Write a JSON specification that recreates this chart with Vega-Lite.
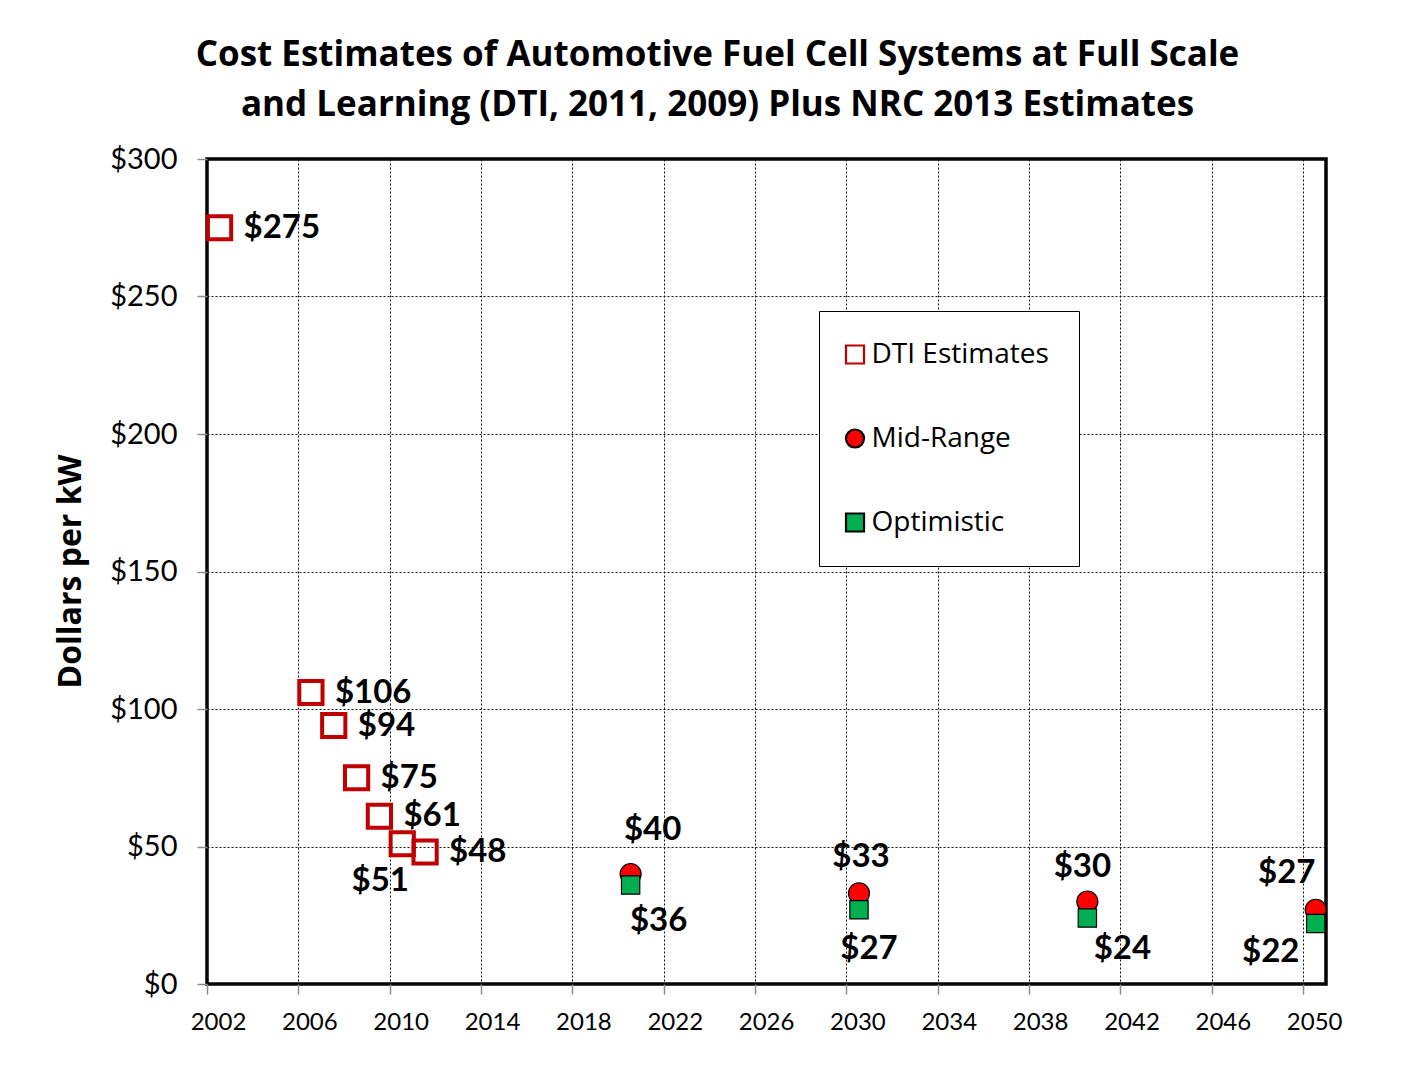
{
  "$schema": "https://vega.github.io/schema/vega-lite/v6.json",
  "width": 1119,
  "height": 825,
  "autosize": {"type": "none"},
  "padding": {"left": 207, "top": 159, "right": 90, "bottom": 81},
  "background": "white",
  "title": {
    "text": ["Cost Estimates of Automotive  Fuel Cell Systems at Full Scale", "and Learning  (DTI, 2011, 2009) Plus NRC 2013 Estimates"],
    "font": "Open Sans",
    "fontSize": 35,
    "fontWeight": "bold",
    "lineHeight": 50,
    "anchor": "middle",
    "dx": -49,
    "offset": 22,
    "color": "black"
  },
  "data": {
    "values": [
      {"series": "DTI Estimates", "year": 2002.55, "cost": 275},
      {"series": "DTI Estimates", "year": 2006.55, "cost": 106},
      {"series": "DTI Estimates", "year": 2007.55, "cost": 94},
      {"series": "DTI Estimates", "year": 2008.55, "cost": 75},
      {"series": "DTI Estimates", "year": 2009.55, "cost": 61},
      {"series": "DTI Estimates", "year": 2010.55, "cost": 51},
      {"series": "DTI Estimates", "year": 2011.55, "cost": 48},
      {"series": "Mid-Range", "year": 2020.55, "cost": 40},
      {"series": "Mid-Range", "year": 2030.55, "cost": 33},
      {"series": "Mid-Range", "year": 2040.55, "cost": 30},
      {"series": "Mid-Range", "year": 2050.55, "cost": 27},
      {"series": "Optimistic", "year": 2020.55, "cost": 36},
      {"series": "Optimistic", "year": 2030.55, "cost": 27},
      {"series": "Optimistic", "year": 2040.55, "cost": 24},
      {"series": "Optimistic", "year": 2050.55, "cost": 22}
    ]
  },
  "encoding": {
    "x": {
      "field": "year",
      "type": "quantitative",
      "scale": {"domain": [2002, 2051], "nice": false, "zero": false},
      "axis": {
        "values": [2002, 2006, 2010, 2014, 2018, 2022, 2026, 2030, 2034, 2038, 2042, 2046, 2050],
        "format": "d",
        "title": null,
        "labelFont": "Lato",
        "labelFontSize": 24,
        "labelColor": "black",
        "labelOffset": 11,
        "labelPadding": 16,
        "labelFlush": false,
        "labelOverlap": false,
        "tickColor": "#8c8c8c",
        "tickSize": 10,
        "tickWidth": 1.5,
        "domain": false,
        "grid": true,
        "gridColor": "#111111",
        "gridDash": [2, 2],
        "gridWidth": 1
      }
    },
    "y": {
      "field": "cost",
      "type": "quantitative",
      "scale": {"domain": [0, 300], "nice": false},
      "axis": {
        "values": [0, 50, 100, 150, 200, 250, 300],
        "format": "$.0f",
        "labelFont": "Lato",
        "labelFontSize": 29,
        "labelColor": "black",
        "labelPadding": 20,
        "labelOverlap": false,
        "tickColor": "#8c8c8c",
        "tickSize": 10,
        "tickWidth": 1.5,
        "domain": false,
        "grid": true,
        "gridColor": "#111111",
        "gridDash": [2, 2],
        "gridWidth": 1,
        "title": "Dollars per kW",
        "titleFont": "Open Sans",
        "titleFontSize": 32,
        "titleFontWeight": "bold",
        "titleColor": "black",
        "titleAngle": -90,
        "titleX": -137,
        "titleY": 412,
        "titleAlign": "center",
        "titleBaseline": "middle"
      }
    },
    "shape": {"field": "series", "type": "nominal",
      "scale": {"domain": ["DTI Estimates", "Mid-Range", "Optimistic"], "range": ["square", "circle", "square"]},
      "legend": {"title": null, "orient": "none", "legendX": 612, "legendY": 152,
        "padding": 29.5, "strokeColor": "black", "fillColor": "white",
        "labelFont": "Open Sans", "labelFontSize": 28, "labelColor": "black", "labelOffset": 2.5, "labelLimit": 400,
        "symbolOffset": -7.5, "rowPadding": 56, "symbolSize": 324, "symbolStrokeWidth": 2.2,
        "encode": {"symbols": {"update": {"strokeWidth": {"signal": "datum.label === 'DTI Estimates' ? 3.5 : 1.2"}}}}}},
    "fill": {"field": "series", "type": "nominal",
      "scale": {"domain": ["DTI Estimates", "Mid-Range", "Optimistic"], "range": ["transparent", "#FF0000", "#00B050"]},
      "legend": {"title": null, "orient": "none", "legendX": 612, "legendY": 152,
        "padding": 29.5, "strokeColor": "black", "fillColor": "white",
        "labelFont": "Open Sans", "labelFontSize": 28, "labelColor": "black", "labelOffset": 2.5, "labelLimit": 400,
        "symbolOffset": -7.5, "rowPadding": 56, "symbolSize": 324, "symbolStrokeWidth": 2.2,
        "encode": {"symbols": {"update": {"strokeWidth": {"signal": "datum.label === 'DTI Estimates' ? 3.5 : 1.2"}}}}}},
    "stroke": {"field": "series", "type": "nominal",
      "scale": {"domain": ["DTI Estimates", "Mid-Range", "Optimistic"], "range": ["#C00000", "#000000", "#000000"]},
      "legend": {"title": null, "orient": "none", "legendX": 612, "legendY": 152,
        "padding": 29.5, "strokeColor": "black", "fillColor": "white",
        "labelFont": "Open Sans", "labelFontSize": 28, "labelColor": "black", "labelOffset": 2.5, "labelLimit": 400,
        "symbolOffset": -7.5, "rowPadding": 56, "symbolSize": 324, "symbolStrokeWidth": 2.2,
        "encode": {"symbols": {"update": {"strokeWidth": {"signal": "datum.label === 'DTI Estimates' ? 3.5 : 1.2"}}}}}}
  },
  "layer": [
    {
      "transform": [{"filter": "datum.series == 'DTI Estimates'"}],
      "mark": {"type": "point", "filled": true, "opacity": 1, "size": 540, "strokeWidth": 4}
    },
    {
      "transform": [{"filter": "datum.series == 'Mid-Range'"}],
      "mark": {"type": "point", "filled": true, "opacity": 1, "size": 441, "strokeWidth": 1.2}
    },
    {
      "transform": [{"filter": "datum.series == 'Optimistic'"}],
      "mark": {"type": "point", "filled": true, "opacity": 1, "size": 335, "strokeWidth": 1.2}
    },
    {
      "transform": [{"filter": "datum.series == 'DTI Estimates' && datum.year != 2010.55"}],
      "mark": {"type": "text", "font": "Lato", "fontSize": 33, "fontWeight": "bold", "align": "left", "baseline": "middle", "dx": 24, "dy": 0},
      "encoding": {"text": {"field": "cost", "type": "quantitative", "format": "$.0f"}, "shape": null, "fill": {"value": "black"}, "stroke": null}
    },
    {
      "transform": [{"filter": "datum.series == 'DTI Estimates' && datum.year == 2010.55"}],
      "mark": {"type": "text", "font": "Lato", "fontSize": 33, "fontWeight": "bold", "align": "center", "baseline": "middle", "dx": -22, "dy": 37},
      "encoding": {"text": {"field": "cost", "type": "quantitative", "format": "$.0f"}, "shape": null, "fill": {"value": "black"}, "stroke": null}
    },
    {
      "transform": [{"filter": "datum.series == 'Mid-Range' && datum.year == 2020.55"}],
      "mark": {"type": "text", "font": "Lato", "fontSize": 33, "fontWeight": "bold", "align": "center", "baseline": "middle", "dx": 22, "dy": -44},
      "encoding": {"text": {"field": "cost", "type": "quantitative", "format": "$.0f"}, "shape": null, "fill": {"value": "black"}, "stroke": null}
    },
    {
      "transform": [{"filter": "datum.series == 'Mid-Range' && datum.year == 2030.55"}],
      "mark": {"type": "text", "font": "Lato", "fontSize": 33, "fontWeight": "bold", "align": "center", "baseline": "middle", "dx": 2, "dy": -36},
      "encoding": {"text": {"field": "cost", "type": "quantitative", "format": "$.0f"}, "shape": null, "fill": {"value": "black"}, "stroke": null}
    },
    {
      "transform": [{"filter": "datum.series == 'Mid-Range' && datum.year == 2040.55"}],
      "mark": {"type": "text", "font": "Lato", "fontSize": 33, "fontWeight": "bold", "align": "center", "baseline": "middle", "dx": -5, "dy": -35},
      "encoding": {"text": {"field": "cost", "type": "quantitative", "format": "$.0f"}, "shape": null, "fill": {"value": "black"}, "stroke": null}
    },
    {
      "transform": [{"filter": "datum.series == 'Mid-Range' && datum.year == 2050.55"}],
      "mark": {"type": "text", "font": "Lato", "fontSize": 33, "fontWeight": "bold", "align": "center", "baseline": "middle", "dx": -29, "dy": -37},
      "encoding": {"text": {"field": "cost", "type": "quantitative", "format": "$.0f"}, "shape": null, "fill": {"value": "black"}, "stroke": null}
    },
    {
      "transform": [{"filter": "datum.series == 'Optimistic' && datum.year == 2020.55"}],
      "mark": {"type": "text", "font": "Lato", "fontSize": 33, "fontWeight": "bold", "align": "center", "baseline": "middle", "dx": 28, "dy": 36},
      "encoding": {"text": {"field": "cost", "type": "quantitative", "format": "$.0f"}, "shape": null, "fill": {"value": "black"}, "stroke": null}
    },
    {
      "transform": [{"filter": "datum.series == 'Optimistic' && datum.year == 2030.55"}],
      "mark": {"type": "text", "font": "Lato", "fontSize": 33, "fontWeight": "bold", "align": "center", "baseline": "middle", "dx": 10, "dy": 39},
      "encoding": {"text": {"field": "cost", "type": "quantitative", "format": "$.0f"}, "shape": null, "fill": {"value": "black"}, "stroke": null}
    },
    {
      "transform": [{"filter": "datum.series == 'Optimistic' && datum.year == 2040.55"}],
      "mark": {"type": "text", "font": "Lato", "fontSize": 33, "fontWeight": "bold", "align": "center", "baseline": "middle", "dx": 35, "dy": 31},
      "encoding": {"text": {"field": "cost", "type": "quantitative", "format": "$.0f"}, "shape": null, "fill": {"value": "black"}, "stroke": null}
    },
    {
      "transform": [{"filter": "datum.series == 'Optimistic' && datum.year == 2050.55"}],
      "mark": {"type": "text", "font": "Lato", "fontSize": 33, "fontWeight": "bold", "align": "center", "baseline": "middle", "dx": -45, "dy": 28},
      "encoding": {"text": {"field": "cost", "type": "quantitative", "format": "$.0f"}, "shape": null, "fill": {"value": "black"}, "stroke": null}
    }
  ],
  "config": {
    "view": {"stroke": "black", "strokeWidth": 3.5}
  }
}
